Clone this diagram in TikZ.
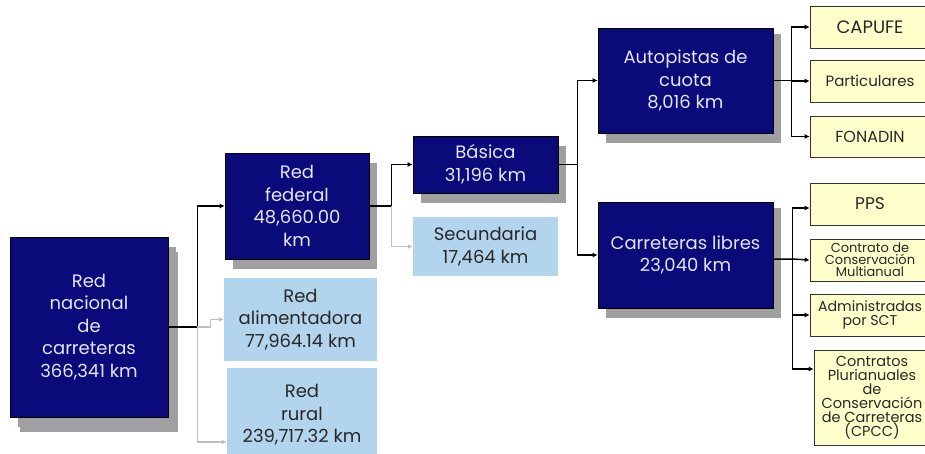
\documentclass[tikz,border=0pt]{standalone}
\usepackage{fontspec}
\setmainfont{Poppins}
\usetikzlibrary{arrows.meta,shadows,calc}
\definecolor{navy}{RGB}{10,10,122}
\definecolor{navytext}{RGB}{228,228,245}
\definecolor{lblue}{RGB}{178,212,236}
\definecolor{lyellow}{RGB}{255,255,204}
\definecolor{shadowgray}{RGB}{160,160,160}
\definecolor{graylink}{RGB}{190,190,190}
\definecolor{darktext}{RGB}{40,40,40}
\tikzset{
  dark/.style={draw=black, line width=0.6pt, fill=navy, text=navytext, align=center, inner sep=0pt,
    font=\fontsize{18}{22.6}\selectfont,
    general shadow={fill=shadowgray, shadow xshift=8pt, shadow yshift=-10pt}},
  light/.style={fill=lblue, text=darktext, align=center, inner sep=0pt,
    font=\fontsize{18}{22.6}\selectfont},
  yel/.style={draw=black!80, line width=0.6pt, fill=lyellow, text=darktext, align=center, inner sep=0pt,
    minimum width=120pt},
  conn/.style={draw=black, line width=1.5pt, -{Latex[length=5pt,width=5pt]}},
  gconn/.style={draw=graylink, line width=1.2pt, -{Latex[length=5pt,width=5pt]}},
}
\begin{document}
\begin{tikzpicture}[x=1pt,y=-1pt]
\useasboundingbox (0,0) rectangle (925,454);
\clip (0,0) rectangle (925,454);
\fill[white] (0,0) rectangle (925,454);
% dark and light boxes
\node[dark, minimum width=158pt, minimum height=180pt,
  general shadow={fill=shadowgray, shadow xshift=10pt, shadow yshift=-15pt}] (nac) at (89,327)
  {Red\\nacional\\de\\carreteras\\366,341 km};
\node[dark, minimum width=144pt, minimum height=106pt] (fed) at (297,206)
  {Red\\federal\\48,660.00\\km};
\node[light, minimum width=153pt, minimum height=83pt] (ali) at (300.5,319.5)
  {Red\\alimentadora\\77,964.14 km};
\node[light, minimum width=150pt, minimum height=94pt] (rur) at (302,415)
  {Red\\rural\\239,717.32 km};
\node[dark, minimum width=145pt, minimum height=57pt] (bas) at (485.5,164.5)
  {Básica\\31,196 km};
\node[light, minimum width=145pt, minimum height=59pt] (sec) at (485.5,246.5)
  {Secundaria\\17,464 km};
\node[dark, minimum width=175pt, minimum height=105pt,
  general shadow={fill=shadowgray, shadow xshift=8pt, shadow yshift=-6pt}] (aut) at (685.5,80.5)
  {Autopistas de\\cuota\\8,016 km};
\node[dark, minimum width=175pt, minimum height=106pt,
  general shadow={fill=shadowgray, shadow xshift=8pt, shadow yshift=-6pt}] (lib) at (685.5,255)
  {Carreteras libres\\23,040 km};
% yellow boxes
\node[yel, minimum height=42pt, font=\fontsize{18}{20}\selectfont] (cap) at (870,27) {CAPUFE};
\node[yel, minimum height=42pt, font=\fontsize{15}{17}\selectfont] (par) at (870,81) {Particulares};
\node[yel, minimum height=41pt, font=\fontsize{16}{18}\selectfont] (fon) at (870,136.5) {FONADIN};
\node[yel, minimum height=42pt, font=\fontsize{17}{19}\selectfont] (pps) at (870,204) {PPS};
\node[yel, minimum height=42pt, font=\fontsize{13}{12}\selectfont] (con) at (870,260)
  {Contrato de\\Conservación\\Multianual};
\node[yel, minimum height=42pt, font=\fontsize{14.2}{13.5}\selectfont] (adm) at (870,315)
  {Administradas\\por SCT};
\node[yel, minimum width=116pt, minimum height=95pt, font=\fontsize{14.5}{14}\selectfont] (cpc) at (872,397.5)
  {Contratos\\Plurianuales\\de\\Conservación\\de Carreteras\\(CPCC)};
% connectors
\coordinate (j1) at ($(nac.east)+(29,0)$);
\draw[conn] (nac.east) -- (j1) |- (fed.west);
\draw[gconn] (j1) -- ++(13,0) |- (ali.west);
\draw[gconn] (j1) |- ($(rur.west)+(0,27)$);
\coordinate (j2) at ($(fed.east)+(22,0)$);
\draw[conn] (fed.east) -- (j2) |- (bas.west);
\draw[gconn] (j2) |- (sec.west);
\coordinate (j3) at ($(bas.east)+(19,0)$);
\draw[conn] (bas.east) -- (j3) |- (aut.west);
\draw[conn] (j3) |- (lib.west);
\coordinate (j4) at ($(aut.east)+(18,0)$);
\draw[conn] (aut.east) -- (j4) |- (par.west);
\draw[conn] (j4) |- (cap.west);
\draw[conn] (j4) |- (fon.west);
\coordinate (j5) at ($(lib.east)+(19,4)$);
\draw[conn] ($(lib.east)+(0,4)$) -- (j5) -- (con.west);
\draw[conn] (j5) |- ($(pps.west)+(0,4)$);
\draw[conn] (j5) |- (adm.west);
\draw[conn] (j5) |- ($(cpc.west)+(0,-28.5)$);
\end{tikzpicture}
\end{document}
